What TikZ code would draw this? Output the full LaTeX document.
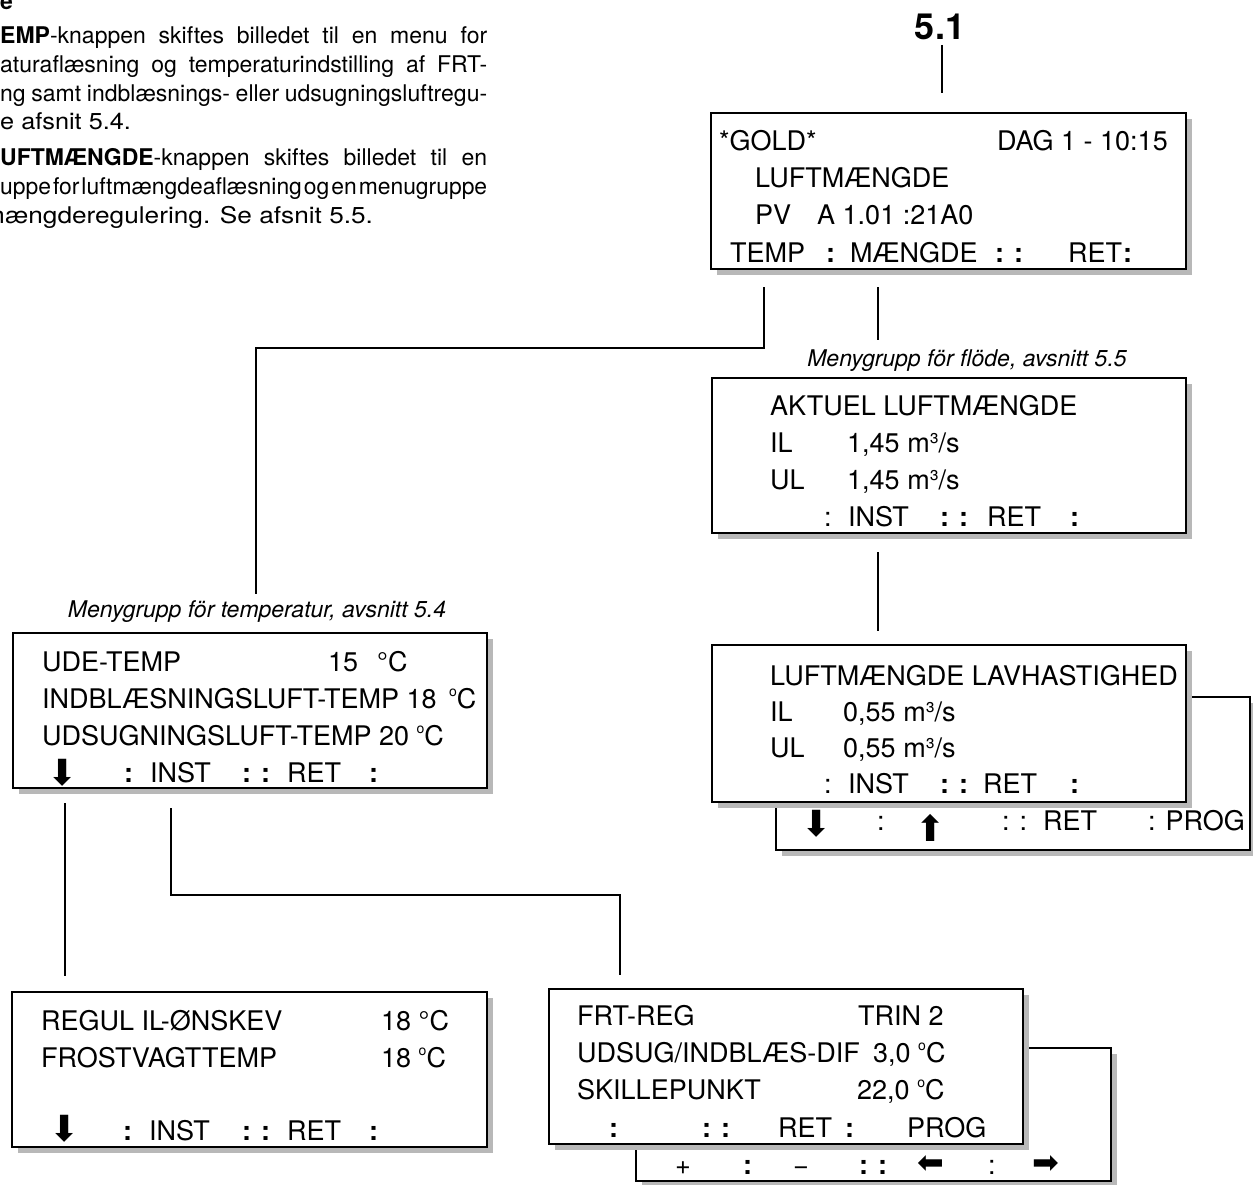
\documentclass[tikz,border=0pt]{standalone}
\usepackage{fontspec}
\usepackage{graphicx}
\setmainfont{TeX Gyre Heros}
\newfontfamily\arrowfont{DejaVu Sans}
\usetikzlibrary{shadows}

% small raised "o" used as degree sign on the display
\newcommand{\smdeg}{\raisebox{0.42em}{\fontsize{14}{14}\selectfont o}}
% heavy arrow symbol: black arrow if the font has it, plain arrow otherwise
\newcommand{\symarw}[3]{{\arrowfont\fontsize{#3}{#3}\selectfont
  \iffontchar\font"#1 \char"#1 \else #2\fi}}
% one justified line of the column text, 487pt wide
\newcommand{\jline}[1]{%
  \setbox0=\hbox{\spaceskip=2pt plus 40pt\relax #1}%
  \ifdim\wd0>487pt \resizebox{487pt}{\height}{\box0}%
  \else \hbox to 487pt{\spaceskip=2pt plus 40pt\relax #1}\fi}

\tikzset{
  lcd/.style={draw, line width=2.6pt, fill=white, inner sep=0pt, outer sep=0pt,
    drop shadow={shadow xshift=6pt, shadow yshift=-6pt, fill=black!28, opacity=1}},
  txt/.style={anchor=base west, inner sep=0pt, font=\fontsize{27}{30}\selectfont},
  arrowsym/.style={anchor=center, inner sep=0pt},
  para/.style={anchor=base west, inner sep=0pt, font=\fontsize{23}{28}\selectfont},
  grouplabel/.style={anchor=base, inner sep=0pt, font=\fontsize{23}{28}\selectfont\itshape},
  conn/.style={line width=2.2pt},
}

\begin{document}
\begin{tikzpicture}[x=1pt, y=-1pt]
\useasboundingbox (0,0) rectangle (1253,1185);
\clip (0,0) rectangle (1253,1185);

% ---------- running text in the left column ----------
\node[para] (p0) at (0,10) {\bfseries e};
\node[para] (p1) at (0,44) {\jline{\textbf{EMP}-knappen skiftes billedet til en menu for}};
\node[para] (p2) at (0,73) {\jline{aturaflæsning og temperaturindstilling af FRT-}};
\node[para] (p3) at (0,102) {\jline{ng samt indblæsnings- eller udsugningsluftregu-}};
\node[para] (p4) at (0,130) {\scalebox{1.1}[1]{e afsnit 5.4.}};
\node[para] (p5) at (0,166) {\jline{\textbf{UFTMÆNGDE}-knappen skiftes billedet til en}};
\node[para] (p6) at (0,195) {\jline{uppe for luftmængdeaflæsning og en menugruppe}};
\node[para] (p7) at (-17,224) {\scalebox{1.14}[1]{mængderegulering. Se afsnit 5.5.}};

% ---------- section number ----------
\node[anchor=base, inner sep=0pt, font=\fontsize{36}{40}\selectfont\bfseries] (sec) at (940,40) {5.1};

% ---------- back panels (second page of a menu) ----------
\node[lcd, anchor=north west, minimum width=474pt, minimum height=153pt] (lavback) at (776,697) {};
\node[lcd, anchor=north west, minimum width=475pt, minimum height=133pt] (frtback) at (636,1048) {};

% ---------- display panels ----------
\node[lcd, anchor=north west, minimum width=475pt, minimum height=156pt] (top) at (711,113) {};
\node[lcd, anchor=north west, minimum width=474pt, minimum height=155pt] (akt) at (712,378) {};
\node[lcd, anchor=north west, minimum width=474pt, minimum height=157pt] (lav) at (712,645) {};
\node[lcd, anchor=north west, minimum width=474pt, minimum height=155pt] (ude) at (13,633) {};
\node[lcd, anchor=north west, minimum width=475pt, minimum height=155pt] (reg) at (12,992) {};
\node[lcd, anchor=north west, minimum width=474pt, minimum height=155pt] (frt) at (549,989) {};

% ---------- connector end points ----------
\coordinate (secA) at (942,45);
\coordinate (secB) at (942,93);
\coordinate (tA) at (764,287);
\coordinate (tB) at (256,594);
\coordinate (mA) at (878,287);
\coordinate (mB) at (878,340);
\coordinate (aA) at (878,552);
\coordinate (aB) at (878,631);
\coordinate (uA) at (65,803);
\coordinate (uB) at (65,976);
\coordinate (iA) at (171,808);
\coordinate (iB) at (620,975);

\draw[conn] (secA) -- (secB);
\draw[conn] (tA) -- (764,348) -| (tB);
\draw[conn] (mA) -- (mB);
\draw[conn] (aA) -- (aB);
\draw[conn] (uA) -- (uB);
\draw[conn] (iA) -- (171,895) -| (iB);

% ---------- group captions ----------
\node[grouplabel] (capflow) at (967,366) {Menygrupp för flöde, avsnitt 5.5};
\node[grouplabel] (captemp) at (257,617) {Menygrupp för temperatur, avsnitt 5.4};

% ---------- main display ----------
\node[txt] (top1a) at (719,151) {*GOLD*};
\node[txt] (top1b) at (997,151) {DAG 1 - 10:15};
\node[txt] (top2) at (755,188) {LUFTMÆNGDE};
\node[txt] (top3a) at (755,225) {PV};
\node[txt] (top3b) at (817,225) {A 1.01 :21A0};
\node[txt] (top4a) at (730,262) {TEMP};
\node[txt] (top4b) at (826,262) {\textbf{:}};
\node[txt] (top4c) at (850,262) {MÆNGDE};
\node[txt] (top4d) at (995,262) {\textbf{: :}};
\node[txt] (top4e) at (1068,262) {RET\hspace{1pt}\textbf{:}};

% ---------- actual air flow ----------
\node[txt] (akt1) at (770,415) {AKTUEL LUFTMÆNGDE};
\node[txt] (akt2a) at (770,452) {IL};
\node[txt] (akt2b) at (847,452) {1,45 m³/s};
\node[txt] (akt3a) at (770,489) {UL};
\node[txt] (akt3b) at (847,489) {1,45 m³/s};
\node[txt] (akt4a) at (824,526) {:};
\node[txt] (akt4b) at (848,526) {INST};
\node[txt] (akt4c) at (940,526) {\textbf{: :}};
\node[txt] (akt4d) at (987,526) {RET};
\node[txt] (akt4e) at (1070,526) {\textbf{:}};

% ---------- low speed air flow ----------
\node[txt] (lav1) at (770,685) {LUFTMÆNGDE LAVHASTIGHED};
\node[txt] (lav2a) at (770,721) {IL};
\node[txt] (lav2b) at (843,721) {0,55 m³/s};
\node[txt] (lav3a) at (770,757) {UL};
\node[txt] (lav3b) at (843,757) {0,55 m³/s};
\node[txt] (lav4a) at (824,793) {:};
\node[txt] (lav4b) at (848,793) {INST};
\node[txt] (lav4c) at (940,793) {\textbf{: :}};
\node[txt] (lav4d) at (983,793) {RET};
\node[txt] (lav4e) at (1070,793) {\textbf{:}};
\node[arrowsym] (lavb1) at (817,824) {\symarw{2B07}{↓}{36}};
\node[txt] (lavb2) at (877,830) {:};
\node[arrowsym] (lavb3) at (931,828) {\symarw{2B06}{↑}{36}};
\node[txt] (lavb4) at (1002,830) {: :};
\node[txt] (lavb5) at (1043,830) {RET};
\node[txt] (lavb6) at (1148,830) {: PROG};

% ---------- temperatures ----------
\node[txt] (ude1a) at (42,671) {UDE-TEMP};
\node[txt] (ude1b) at (328,671) {15};
\node[txt] (ude1c) at (377,671) {°C};
\node[txt] (ude2a) at (42,708) {INDBLÆSNINGSLUFT-TEMP 18};
\node[txt] (ude2b) at (449,708) {\smdeg C};
\node[txt] (ude3) at (42,745) {UDSUGNINGSLUFT-TEMP 20 \smdeg C};
\node[arrowsym] (ude4a) at (63,773) {\symarw{2B07}{↓}{36}};
\node[txt] (ude4b) at (124,782) {\textbf{:}};
\node[txt] (ude4c) at (150,782) {INST};
\node[txt] (ude4d) at (242,782) {\textbf{: :}};
\node[txt] (ude4e) at (287,782) {RET};
\node[txt] (ude4f) at (369,782) {\textbf{:}};

% ---------- supply air set point ----------
\node[txt] (reg1a) at (41,1030) {REGUL IL-ØNSKEV};
\node[txt] (reg1b) at (381,1030) {18 °C};
\node[txt] (reg2a) at (41,1067) {{\spaceskip=1pt FROSTVAGT TEMP}};
\node[txt] (reg2b) at (381,1067) {18 \smdeg C};
\node[arrowsym] (reg4a) at (65,1129) {\symarw{2B07}{↓}{36}};
\node[txt] (reg4b) at (123,1140) {\textbf{:}};
\node[txt] (reg4c) at (149,1140) {INST};
\node[txt] (reg4d) at (242,1140) {\textbf{: :}};
\node[txt] (reg4e) at (287,1140) {RET};
\node[txt] (reg4f) at (369,1140) {\textbf{:}};

% ---------- FRT control ----------
\node[txt] (frt1a) at (577,1025) {FRT-REG};
\node[txt] (frt1b) at (858,1025) {TRIN 2};
\node[txt] (frt2a) at (577,1062) {UDSUG/INDBLÆS-DIF};
\node[txt] (frt2b) at (873,1062) {3,0 \smdeg C};
\node[txt] (frt3a) at (577,1099) {SKILLEPUNKT};
\node[txt] (frt3b) at (857,1099) {22,0 \smdeg C};
\node[txt] (frt4a) at (609,1137) {\textbf{:}};
\node[txt] (frt4b) at (702,1137) {\textbf{: :}};
\node[txt] (frt4c) at (778,1137) {RET};
\node[txt] (frt4d) at (845,1137) {\textbf{:}};
\node[txt] (frt4e) at (907,1137) {PROG};
\node[txt] (frtb1) at (675,1174) {+};
\node[txt] (frtb2) at (743,1174) {\textbf{:}};
\node[txt] (frtb3) at (793,1174) {−};
\node[txt] (frtb4) at (859,1174) {\textbf{: :}};
\node[arrowsym] (frtb5) at (931,1165) {\symarw{2B05}{←}{32}};
\node[txt] (frtb6) at (988,1174) {:};
\node[arrowsym] (frtb7) at (1046,1165) {\symarw{27A1}{→}{32}};
\end{tikzpicture}
\end{document}
